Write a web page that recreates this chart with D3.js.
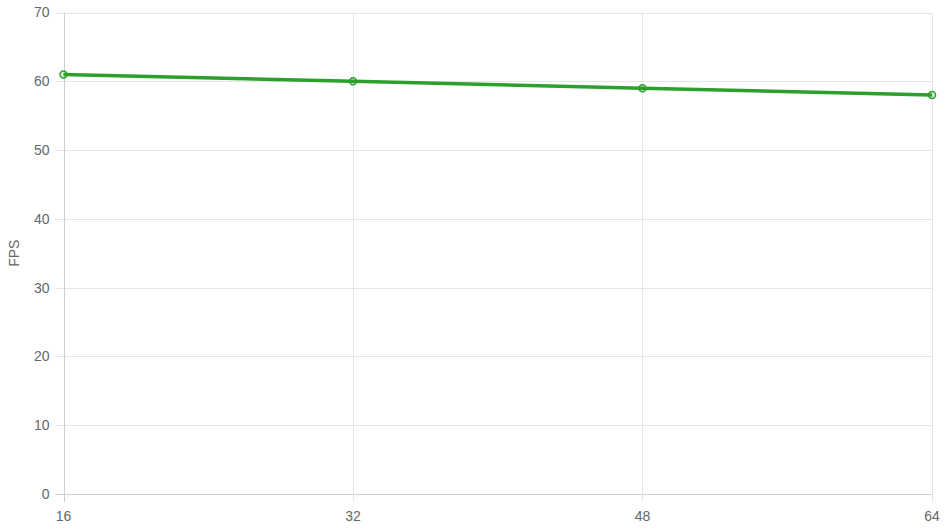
<!DOCTYPE html>
<html>
<head>
<meta charset="utf-8">
<script src="https://cdn.jsdelivr.net/npm/d3@7"></script>
<style>
  body { margin: 0; background: #fff; }
  text { font-family: "Helvetica Neue", Helvetica, Arial, "Liberation Sans", sans-serif; }
</style>
</head>
<body>
<svg id="chart" width="945" height="532"></svg>
<script>
// data
var xValues = [16, 32, 48, 64];
var fpsValues = [61, 60, 59, 58];
var yTicks = [0, 10, 20, 30, 40, 50, 60, 70];

var width = 945, height = 532;
var margin = { top: 12.5, right: 13, bottom: 38, left: 63.5 };

var svg = d3.select('#chart');

var x = d3.scaleLinear()
    .domain([16, 64])
    .range([margin.left, width - margin.right]);

var y = d3.scaleLinear()
    .domain([0, 70])
    .range([height - margin.bottom, margin.top]);

// grid lines
var grid = svg.append('g');

grid.selectAll('.hgrid')
    .data(yTicks)
    .enter()
    .append('line')
    .attr('x1', margin.left - 8)
    .attr('x2', width - margin.right)
    .attr('y1', function(d){ return Math.round(y(d)) + 0.5; })
    .attr('y2', function(d){ return Math.round(y(d)) + 0.5; })
    .attr('stroke', function(d){ return d == 0 ? '#cfcfcf' : '#e5e5e5'; })
    .attr('stroke-width', 1);

grid.selectAll('.vgrid')
    .data(xValues)
    .enter()
    .append('line')
    .attr('x1', function(d){ return Math.round(x(d)) + 0.5; })
    .attr('x2', function(d){ return Math.round(x(d)) + 0.5; })
    .attr('y1', margin.top)
    .attr('y2', height - margin.bottom + 8)
    .attr('stroke', function(d, i){ return i == 0 ? '#cfcfcf' : '#e5e5e5'; })
    .attr('stroke-width', 1);

// y tick labels
svg.append('g')
    .selectAll('text')
    .data(yTicks)
    .enter()
    .append('text')
    .attr('x', margin.left - 14)
    .attr('y', function(d){ return y(d); })
    .attr('dy', '0.35em')
    .attr('text-anchor', 'end')
    .attr('font-size', 14)
    .attr('fill', '#666')
    .text(function(d){ return d; });

// x tick labels
svg.append('g')
    .selectAll('text')
    .data(xValues)
    .enter()
    .append('text')
    .attr('x', function(d){ return x(d); })
    .attr('y', height - margin.bottom + 22)
    .attr('dy', '0.35em')
    .attr('text-anchor', 'middle')
    .attr('font-size', 14)
    .attr('fill', '#666')
    .text(function(d){ return d; });

// y axis title
svg.append('text')
    .attr('transform', 'translate(19,' + (margin.top + (height - margin.bottom - margin.top) / 2) + ') rotate(-90)')
    .attr('text-anchor', 'middle')
    .attr('font-size', 14)
    .attr('fill', '#666')
    .text('FPS');

// line
var line = d3.line()
    .x(function(d, i){ return x(xValues[i]); })
    .y(function(d){ return y(d); });

svg.append('path')
    .datum(fpsValues)
    .attr('d', line)
    .attr('fill', 'none')
    .attr('stroke', '#2ca02c')
    .attr('stroke-width', 3.5);

svg.append('g')
    .selectAll('circle')
    .data(fpsValues)
    .enter()
    .append('circle')
    .attr('cx', function(d, i){ return x(xValues[i]); })
    .attr('cy', function(d){ return y(d); })
    .attr('r', 3.5)
    .attr('fill', 'rgba(44,160,44,0.15)')
    .attr('stroke', '#2ca02c')
    .attr('stroke-width', 1.5);
</script>
</body>
</html>
